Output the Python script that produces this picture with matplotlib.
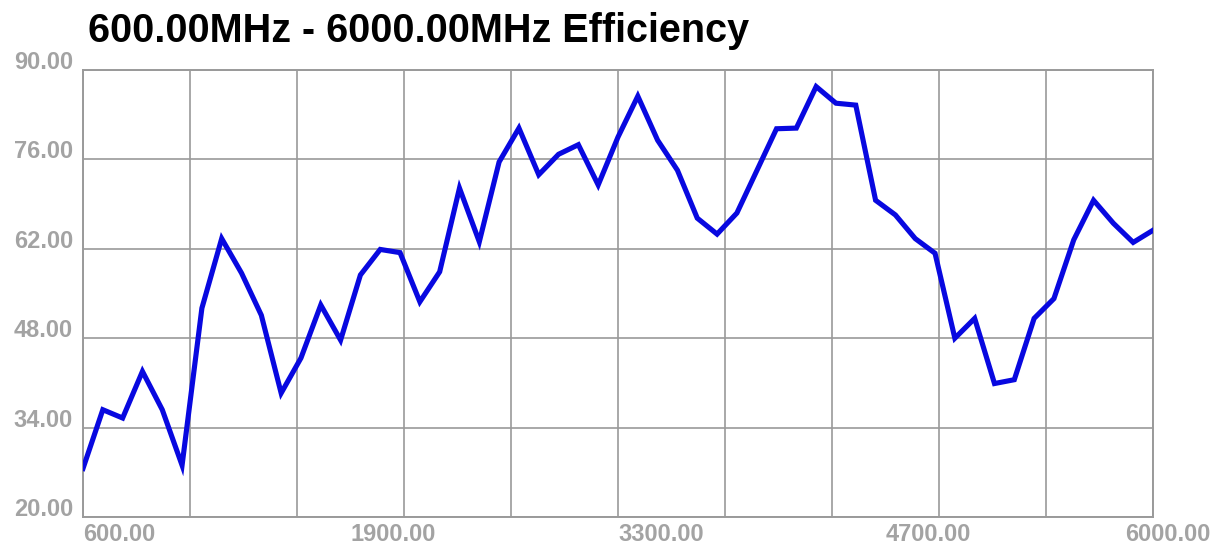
import numpy as np
import matplotlib
matplotlib.use('Agg')
import matplotlib.pyplot as plt
import matplotlib.transforms as mtransforms

# efficiency samples every 100 MHz, 600..6000
freq_mhz = np.arange(600, 6001, 100)
efficiency = [27.6, 36.8, 35.5, 42.8, 36.8, 28.1, 52.7, 63.6, 58.2, 51.6,
              39.4, 44.9, 53.2, 47.7, 57.9, 61.9, 61.4, 53.7, 58.4, 71.5,
              63.1, 75.6, 80.9, 73.6, 76.8, 78.3, 72.0, 79.5, 85.9, 79.0,
              74.3, 66.8, 64.3, 67.6, 74.2, 80.8, 80.9, 87.4, 84.8, 84.5,
              69.6, 67.3, 63.6, 61.3, 48.0, 51.1, 40.9, 41.5, 51.1, 54.2,
              63.4, 69.6, 66.0, 63.0, 64.9]

x_label_pos = [600, 1950, 3300, 4650, 6000]
x_label_text = ['600.00', '1900.00', '3300.00', '4700.00', '6000.00']
y_ticks = [20, 34, 48, 62, 76, 90]
y_label_text = ['20.00', '34.00', '48.00', '62.00', '76.00', '90.00']

title = '600.00MHz - 6000.00MHz Efficiency'

W, H = 1226, 546
fig = plt.figure(figsize=(W / 100, H / 100), dpi=100)
ax = fig.add_axes([83 / W, 1 - 517 / H, (1153 - 83) / W, (517 - 70) / H])

grid_col = '#9a9a9a'
lab_col = '#a3a3a3'
font = 'Liberation Sans'

ax.plot(freq_mhz, efficiency, color='#0808e0', lw=3.7, solid_joinstyle='miter', zorder=3)

ax.set_xlim(600, 6000)
ax.set_ylim(20, 90)
ax.set_xticks(np.arange(600, 6001, 540))
ax.set_yticks(y_ticks)
ax.tick_params(length=0, labelbottom=False, labelleft=False)
ax.grid(True, color=grid_col, lw=1.2)
for sp in ax.spines.values():
    sp.set_color(grid_col)
    sp.set_linewidth(1.4)

# x labels, left aligned at quarter marks
tx = mtransforms.blended_transform_factory(ax.transData, ax.transAxes)
for i, (xv, t) in enumerate(zip(x_label_pos, x_label_text)):
    dx = -28 / 100 if i == len(x_label_pos) - 1 else 0
    off = mtransforms.ScaledTranslation(dx, -6 / 100, fig.dpi_scale_trans)
    ax.text(xv, 0, t, transform=tx + off, ha='left', va='top',
            fontsize=17, fontweight='bold', color=lab_col, family=font)

# y labels sit just above their grid lines
ty = mtransforms.blended_transform_factory(ax.transAxes, ax.transData)
for yv, t in zip(y_ticks, y_label_text):
    off = mtransforms.ScaledTranslation(-10 / 100, 1 / 100, fig.dpi_scale_trans)
    ax.text(0, yv, t, transform=ty + off, ha='right', va='baseline',
            fontsize=17, fontweight='bold', color=lab_col, family=font)

fig.text(88 / W, 1 - 42 / H, title, ha='left', va='baseline',
         fontsize=28.5, fontweight='bold', color='black', family=font)

fig.savefig('out.png', dpi=100, facecolor='white')
